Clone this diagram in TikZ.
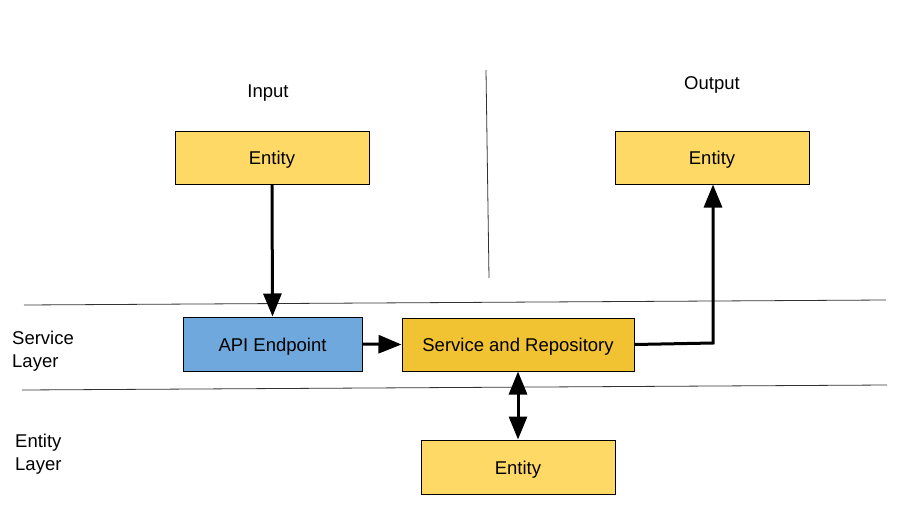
\documentclass[tikz,border=0pt]{standalone}
\usepackage{fontspec}
\setmainfont{Liberation Sans}
\usetikzlibrary{arrows.meta}
\definecolor{entfill}{HTML}{FFD966}
\definecolor{apifill}{HTML}{6FA8DC}
\definecolor{svcfill}{HTML}{F1C232}
\tikzset{
  box/.style={draw=black, line width=1pt, minimum height=53pt, inner sep=0pt, text height=18pt, text depth=4pt, font=\fontsize{18.5}{22}\selectfont},
  lbl/.style={font=\fontsize{18.5}{23}\selectfont, inner sep=0pt},
  conn/.style={line width=3pt, -{Triangle[width=18pt,length=23pt]}},
  dconn/.style={line width=3pt, {Triangle[width=18pt,length=23pt]}-{Triangle[width=18pt,length=23pt]}},
  rule/.style={line width=0.8pt, draw=black!80},
}
\begin{document}
\begin{tikzpicture}[x=1pt,y=-1pt]
\useasboundingbox (0,0) rectangle (907,525);
% separators
\coordinate (h1a) at (24,305); \coordinate (h1b) at (886,300);
\coordinate (h2a) at (22,390); \coordinate (h2b) at (887,385);
\coordinate (va) at (486,70); \coordinate (vb) at (489,278);
\draw[rule] (h1a) -- (h1b);
\draw[rule] (h2a) -- (h2b);
\draw[rule] (va) -- (vb);
% labels
\node[lbl] (inp) at (268,93.5) {Input};
\node[lbl] (outp) at (712,84.5) {Output};
\node[lbl, anchor=west, align=left] (sl) at (12,351) {Service\\Layer};
\node[lbl, anchor=west, align=left] (el) at (15,454) {Entity\\Layer};
% boxes
\node[box, fill=entfill, minimum width=194pt] (ein) at (272,157.5) {Entity};
\node[box, fill=entfill, minimum width=194pt] (eout) at (712,157.5) {Entity};
\node[box, fill=apifill, minimum width=179pt, minimum height=54pt] (api) at (272.5,344) {API Endpoint};
\node[box, fill=svcfill, minimum width=232pt] (svc) at (518,344.5) {Service and Repository};
\node[box, fill=entfill, minimum width=194pt, minimum height=54pt] (ebot) at (518,467) {Entity};
% connectors
\draw[conn] (ein.south) -- (api.north);
\draw[conn] (api.east) -- (svc.west);
\coordinate (bend) at (713,343);
\draw[conn] (svc.east) -- (bend) -- (eout.south -| bend);
\draw[dconn] (svc.south) -- (ebot.north);
\end{tikzpicture}
\end{document}
